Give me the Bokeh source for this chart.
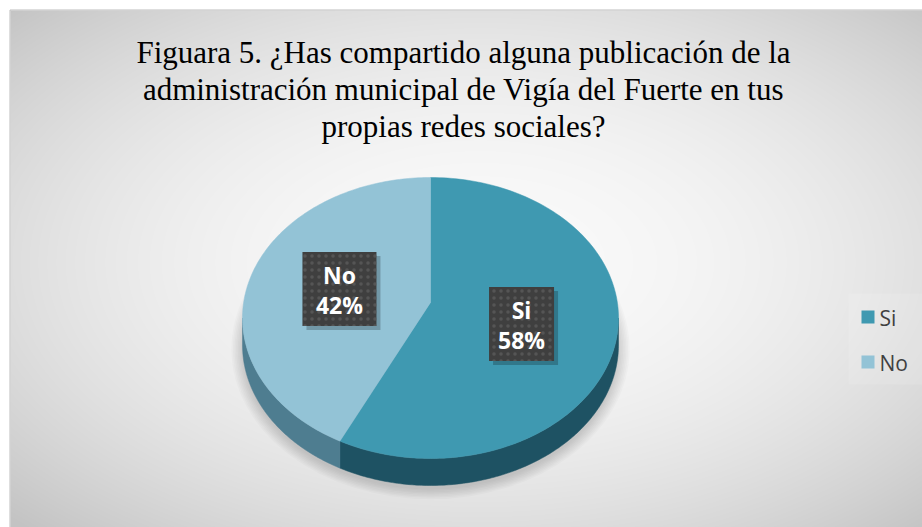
import numpy as np
from bokeh.plotting import figure
from bokeh.models import Range1d
from bokeh.core.properties import value
from bokeh.embed import file_html
from bokeh.resources import INLINE

# ---------------- data ----------------
categories = ["Si", "No"]
values = [58, 42]
pct_labels = ["58%", "42%"]
title_lines = [
    "Figuara 5. ¿Has compartido alguna publicación de la",
    "administración municipal de Vigía del Fuerte en tus",
    "propias redes sociales?",
]

# ---------------- styles ----------------
top_colors = ["#3f99b1", "#93c3d6"]
side_colors = ["#1e5263", "#4e7d90"]
box_widths = [65, 74]

W, H = 922, 527
OFF = 0


def X(px):
    return px - OFF


def Y(py):
    return H - (py - OFF)


p = figure(width=W, height=H, output_backend="svg", toolbar_location=None,
           x_axis_type=None, y_axis_type=None, min_border=0,
           x_range=Range1d(0, W), y_range=Range1d(0, H),
           background_fill_color="white", border_fill_color="white")
p.outline_line_color = None
p.grid.visible = False

# ---------------- background gradient ----------------
G0 = 10
gw, gh = W - G0, H - G0
xs = np.arange(gw) + G0 + 0.5
ys_screen = (H - (np.arange(gh) + 0.5))  # row i -> data y i
gx, gy = np.meshgrid(xs, ys_screen)
cxg, cyg, hw, hh = 480.0, 262.0, 460.0, 260.0
d2 = ((gx - cxg) / hw) ** 2 + ((gy - cyg) / hh) ** 2
v = np.clip(250 - 27 * d2, 195, 250).astype(np.uint32)
img = (255 << 24) | (v << 16) | (v << 8) | v
p.image_rgba(image=[img.astype(np.uint32)], x=G0, y=0, dw=gw, dh=gh)
p.quad(left=[G0 - 0.5], right=[W + 1], bottom=[-1], top=[H - G0 + 0.5],
       fill_color=None, line_color="#bdbdbd", line_width=1)

# ---------------- pie geometry ----------------
ecx, ecy = 430.0, 317.5     # ellipse centre (page px)
apx, apy = 430.0, 302.0     # apex of wedges (page px)
rx, ry = 188.0, 140.5
depth = 27.0


def arc(t0, t1, n=160, dy=0.0):
    t = np.radians(np.linspace(t0, t1, n))
    return X(ecx + rx * np.sin(t)), Y(ecy - ry * np.cos(t) + dy)


# soft shadow
for k in range(0, 16, 2):
    p.ellipse(x=[X(ecx)], y=[Y(ecy + depth + 4)], width=2 * rx + k * 1.6,
              height=2 * ry + k * 1.4, fill_color="black", fill_alpha=0.02,
              line_color=None)

total = float(sum(values))
starts, ends = [], []
acc = 0.0
for val in values:
    starts.append(acc)
    acc += 360.0 * val / total
    ends.append(acc)

# side walls (front half only: 90..270 deg)
for i in range(len(values)):
    lo, hi = max(starts[i], 90.0), min(ends[i], 270.0)
    if hi <= lo:
        continue
    tx, ty = arc(lo, hi)
    bx, by = arc(hi, lo, dy=depth)
    p.patch(x=np.concatenate([tx, bx]), y=np.concatenate([ty, by]),
            fill_color=side_colors[i], line_color=side_colors[i], line_width=0.5)

# top faces
for i in range(len(values)):
    tx, ty = arc(starts[i], ends[i])
    p.patch(x=np.concatenate([[X(apx)], tx]), y=np.concatenate([[Y(apy)], ty]),
            fill_color=top_colors[i], line_color=top_colors[i], line_width=0.5)

# ---------------- data labels ----------------
for i in range(len(values)):
    mid = np.radians((starts[i] + ends[i]) / 2.0)
    lx = apx + 0.5 * rx * np.sin(mid)
    ly = apy - 0.5 * ry * np.cos(mid) + 4
    bw, bh = box_widths[i], 74
    # shadow
    p.quad(left=[X(lx - bw / 2 + 4)], right=[X(lx + bw / 2 + 4)],
           top=[Y(ly - bh / 2 + 4)], bottom=[Y(ly + bh / 2 + 4)],
           fill_color="black", fill_alpha=0.22, line_color=None)
    p.quad(left=[X(lx - bw / 2)], right=[X(lx + bw / 2)],
           top=[Y(ly - bh / 2)], bottom=[Y(ly + bh / 2)],
           fill_color="#3f3f3f", line_color=None,
           hatch_pattern="dot", hatch_color="#5a5a5a", hatch_scale=7,
           hatch_weight=0.8, hatch_alpha=0.8)
    p.text(x=[X(lx)], y=[Y(ly - 14)], text=[categories[i]],
           text_font=value("Open Sans"), text_font_style="bold",
           text_font_size="23px", text_color="white",
           text_align="center", text_baseline="middle")
    p.text(x=[X(lx)], y=[Y(ly + 16)], text=[pct_labels[i]],
           text_font=value("Open Sans"), text_font_style="bold",
           text_font_size="23px", text_color="white",
           text_align="center", text_baseline="middle")

# ---------------- legend ----------------
p.quad(left=[X(848)], right=[X(922)], top=[Y(293)], bottom=[Y(384)],
       fill_color="white", fill_alpha=0.12, line_color=None)
for i, cat in enumerate(categories):
    cy = 316.5 + 45 * i
    p.rect(x=[X(867.5)], y=[Y(cy)], width=13, height=13,
           fill_color=top_colors[i], line_color=None)
    p.text(x=[X(879)], y=[Y(cy + 1)], text=[cat],
           text_font=value("Open Sans"), text_font_size="21px",
           text_color="#404040", text_align="left", text_baseline="middle")

# ---------------- title ----------------
for j, line in enumerate(title_lines):
    p.text(x=[X(463)], y=[Y(52 + 37 * j)], text=[line],
           text_font=value("Liberation Serif, DejaVu Serif, serif"),
           text_font_size="31px",
           text_color="black", text_align="center",
           text_baseline="alphabetic")

open("out.html", "w").write(file_html(p, INLINE))
